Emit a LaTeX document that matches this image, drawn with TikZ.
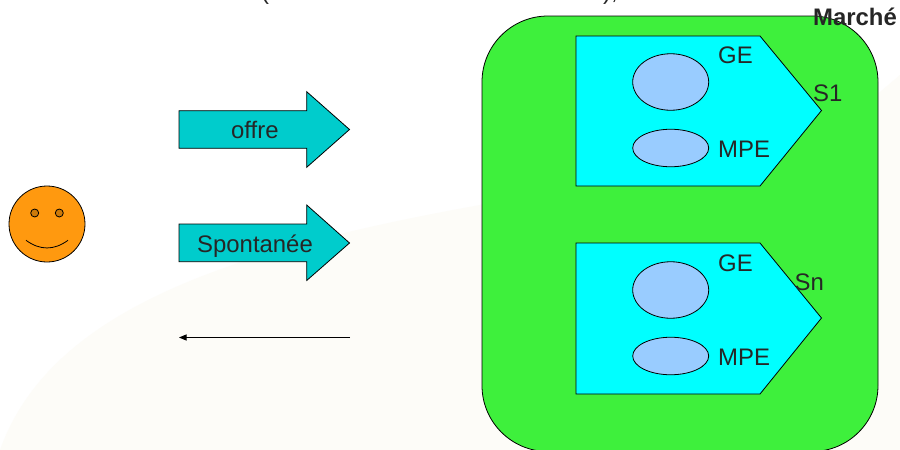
\documentclass[tikz,border=0pt]{standalone}
\usepackage{fontspec}
\setmainfont{Liberation Sans}
\usetikzlibrary{arrows.meta,shapes.geometric}
\definecolor{cream}{RGB}{253,252,248}
\definecolor{market}{RGB}{62,240,60}
\definecolor{segment}{RGB}{0,255,255}
\definecolor{blob}{RGB}{153,204,255}
\definecolor{bigteal}{RGB}{0,204,204}
\definecolor{smile}{RGB}{255,153,15}
\definecolor{eye}{RGB}{204,122,10}
\definecolor{ink}{RGB}{38,38,38}
\tikzset{
 x=1pt,y=-1pt,
 outl/.style={draw=black,line width=0.8pt,line join=miter},
 lbl/.style={text=ink,font=\fontsize{23.9}{28}\selectfont,inner sep=0pt,anchor=base west},
 segm/.style={outl,fill=segment},
 oval/.style={outl,fill=blob,ellipse,inner sep=0pt,minimum width=76pt},
 bigarrow/.style={outl,fill=bigteal},
}
\begin{document}
\begin{tikzpicture}
\useasboundingbox (0,0) rectangle (900,450);
\clip (0,0) rectangle (900,450);
\fill[white] (0,0) rectangle (900,450);
\fill[cream] (0,450) .. controls (50,310) and (230,250) .. (480,205) -- (880,92) -- (900,75) -- (900,450) -- cycle;
\node[lbl] (po) at (261,-1) {(};
\node[lbl] (pc) at (603,-1) {),};
\draw[outl,fill=market,rounded corners=66pt] (482,16) rectangle (878,451.5);
\node[lbl,font=\fontsize{23.9}{28}\selectfont\bfseries] (marche) at (813,25) {Marché};
% segment 1
\draw[segm] (576,36) -- (760,36) -- (821.5,110.5) -- (760,186) -- (576,186) -- cycle;
\node[oval,minimum height=56.5pt] (ge1) at (670.7,82) {};
\node[oval,minimum height=37.5pt] (mpe1) at (670.7,148) {};
\node[lbl] (gel1) at (718,63) {GE};
\node[lbl] (mpel1) at (718,157) {MPE};
\node[lbl] (s1) at (813,101) {S1};
% segment n
\draw[segm] (576,243) -- (760,243) -- (821.5,318) -- (760,394) -- (576,394) -- cycle;
\node[oval,minimum height=56.5pt] (ge2) at (670.7,290) {};
\node[oval,minimum height=37.5pt] (mpe2) at (670.7,356) {};
\node[lbl] (gel2) at (718,271) {GE};
\node[lbl] (mpel2) at (718,365) {MPE};
\node[lbl] (sn) at (794.5,290) {Sn};
% block arrows
\draw[bigarrow] (179,110.7) -- (306.7,110.7) -- (306.7,91.7) -- (349.5,129.5) -- (306.7,167.3) -- (306.7,148.3) -- (179,148.3) -- cycle;
\node[lbl] (offre) at (231,138) {offre};
\draw[bigarrow] (179,224) -- (306.7,224) -- (306.7,205) -- (349.5,243) -- (306.7,280.5) -- (306.7,261.7) -- (179,261.7) -- cycle;
\node[lbl] (spont) at (197,252) {Spontanée};
% thin arrow
\coordinate (from) at (350,337.5);
\coordinate (to) at (179,337.5);
\draw[line width=0.8pt,-{Triangle[length=7.5pt,width=6pt]}] (from) -- (to);
% smiley
\node[draw=black,line width=0.8pt,fill=smile,circle,inner sep=0pt,minimum size=76pt] (face) at (47,224) {};
\node[draw=black,line width=0.8pt,fill=eye,circle,inner sep=0pt,minimum size=8pt] (eyeL) at (34.7,213) {};
\node[draw=black,line width=0.8pt,fill=eye,circle,inner sep=0pt,minimum size=8pt] (eyeR) at (59.3,213) {};
\draw[line width=0.8pt] (26,240.3) .. controls (40,250.5) and (54,250.5) .. (68,240.3);
\end{tikzpicture}
\end{document}
